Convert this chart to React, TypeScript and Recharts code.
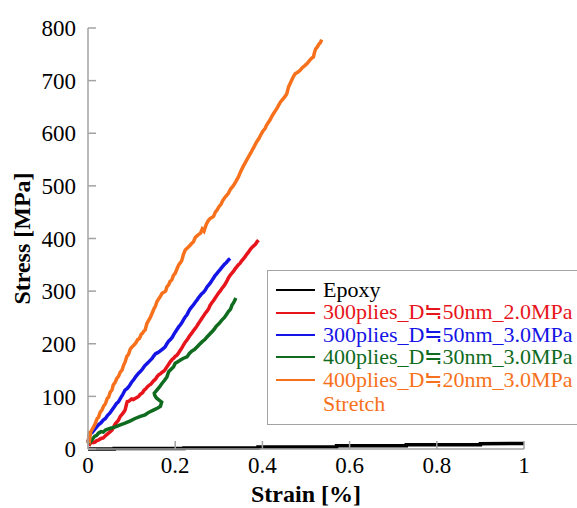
import React from 'react';
import { LineChart, Line, XAxis, YAxis, Legend, Label } from 'recharts';

// strain [%], stress [MPa] pairs
const epoxy: [number, number][] = [
  [0, 0], [0.06, 0], [0.06, 1], [0.22, 1], [0.22, 2], [0.39, 2], [0.39, 4],
  [0.57, 4], [0.57, 6], [0.73, 6], [0.73, 8], [0.9, 8], [0.9, 10], [1, 10.5],
];

const d50_20: [number, number][] = [
  [0, 11], [0.004, 9], [0.008, 14], [0.012, 12], [0.016, 13], [0.02, 16], [0.024, 17],
  [0.03, 20], [0.035, 21], [0.041, 26], [0.047, 30], [0.051, 33], [0.055, 36], [0.059, 42],
  [0.062, 47], [0.066, 51], [0.07, 55], [0.074, 62], [0.078, 66], [0.082, 70], [0.085, 74],
  [0.088, 84], [0.09, 90], [0.094, 91], [0.1, 95], [0.104, 94], [0.108, 96], [0.112, 98],
  [0.116, 100], [0.12, 104], [0.125, 107], [0.129, 112], [0.132, 114], [0.136, 118],
  [0.14, 121], [0.144, 123], [0.147, 126], [0.151, 130], [0.155, 133], [0.159, 138],
  [0.162, 141], [0.166, 143], [0.17, 146], [0.174, 148], [0.177, 151], [0.181, 156],
  [0.185, 161], [0.189, 166], [0.193, 170], [0.197, 173], [0.2, 176], [0.204, 178],
  [0.208, 183], [0.212, 188], [0.216, 193], [0.22, 199], [0.223, 203], [0.227, 207],
  [0.23, 211], [0.234, 216], [0.238, 220], [0.242, 225], [0.246, 229], [0.25, 234],
  [0.253, 238], [0.257, 243], [0.261, 248], [0.265, 253], [0.269, 258], [0.273, 262],
  [0.277, 267], [0.28, 273], [0.284, 278], [0.288, 282], [0.291, 286], [0.295, 291],
  [0.299, 296], [0.303, 300], [0.307, 305], [0.311, 309], [0.315, 314], [0.319, 320],
  [0.322, 325], [0.326, 330], [0.33, 334], [0.334, 338], [0.337, 342], [0.341, 346],
  [0.345, 350], [0.349, 353], [0.352, 357], [0.356, 361], [0.36, 365], [0.364, 370],
  [0.368, 374], [0.372, 379], [0.376, 383], [0.38, 386], [0.384, 389], [0.388, 394],
  [0.391, 397],
];

const d50_30: [number, number][] = [
  [0, 14], [0.003, 22], [0.005, 30], [0.009, 31], [0.012, 34], [0.018, 40], [0.024, 46],
  [0.03, 50], [0.035, 55], [0.04, 58], [0.045, 64], [0.05, 68], [0.055, 74], [0.06, 80],
  [0.065, 86], [0.07, 90], [0.075, 97], [0.08, 104], [0.085, 112], [0.09, 115],
  [0.095, 120], [0.1, 127], [0.105, 132], [0.11, 138], [0.116, 144], [0.12, 147],
  [0.125, 152], [0.13, 158], [0.135, 162], [0.141, 167], [0.147, 172], [0.151, 177],
  [0.155, 181], [0.16, 183], [0.165, 186], [0.171, 190], [0.177, 194], [0.181, 200],
  [0.185, 205], [0.189, 208], [0.193, 212], [0.197, 218], [0.2, 222], [0.204, 227],
  [0.208, 232], [0.212, 236], [0.216, 241], [0.22, 247], [0.223, 251], [0.227, 255],
  [0.23, 260], [0.234, 266], [0.238, 270], [0.242, 274], [0.246, 279], [0.25, 283],
  [0.253, 287], [0.257, 291], [0.261, 295], [0.265, 298], [0.269, 302], [0.273, 308],
  [0.277, 312], [0.281, 316], [0.284, 320], [0.288, 325], [0.291, 329], [0.295, 333],
  [0.299, 337], [0.303, 341], [0.306, 344], [0.31, 348], [0.313, 351], [0.317, 354],
  [0.32, 357], [0.323, 360], [0.326, 362],
];

const d30_30: [number, number][] = [
  [0, 11], [0.003, 20], [0.006, 14], [0.01, 18], [0.015, 24], [0.02, 26], [0.024, 30],
  [0.03, 33], [0.035, 32], [0.04, 36], [0.05, 39], [0.063, 42], [0.074, 46], [0.085, 49],
  [0.096, 53], [0.108, 58], [0.12, 62], [0.131, 65], [0.14, 70], [0.15, 74], [0.16, 78],
  [0.166, 81], [0.169, 89], [0.163, 93], [0.157, 97], [0.153, 102], [0.152, 106],
  [0.158, 112], [0.164, 118], [0.17, 125], [0.176, 131], [0.181, 137], [0.185, 147],
  [0.19, 151], [0.196, 156], [0.2, 163], [0.206, 166], [0.212, 169], [0.218, 172],
  [0.227, 175], [0.233, 182], [0.238, 186], [0.244, 189], [0.25, 194], [0.256, 199],
  [0.262, 204], [0.268, 208], [0.273, 213], [0.28, 219], [0.288, 226], [0.294, 233],
  [0.3, 238], [0.307, 245], [0.313, 250], [0.318, 256], [0.322, 261], [0.327, 266],
  [0.33, 273], [0.334, 278], [0.337, 283], [0.339, 287],
];

const d20_30: [number, number][] = [
  [0, 11], [0.002, 24], [0.004, 20], [0.006, 32], [0.01, 38], [0.014, 44], [0.017, 49],
  [0.021, 58], [0.024, 60], [0.028, 70], [0.032, 74], [0.036, 82], [0.04, 86], [0.044, 96],
  [0.047, 98], [0.051, 108], [0.055, 112], [0.058, 122], [0.062, 126], [0.066, 134],
  [0.07, 138], [0.074, 146], [0.078, 150], [0.082, 160], [0.085, 165], [0.089, 176],
  [0.093, 180], [0.097, 190], [0.101, 194], [0.106, 198], [0.11, 202], [0.114, 208],
  [0.118, 210], [0.122, 218], [0.125, 220], [0.128, 224], [0.131, 226], [0.135, 238],
  [0.138, 243], [0.143, 250], [0.147, 258], [0.151, 266], [0.155, 272], [0.158, 280],
  [0.162, 285], [0.166, 290], [0.17, 296], [0.174, 298], [0.178, 300], [0.181, 308],
  [0.185, 312], [0.188, 318], [0.192, 321], [0.196, 330], [0.2, 334], [0.204, 342],
  [0.208, 350], [0.212, 354], [0.215, 358], [0.219, 370], [0.223, 378], [0.228, 382],
  [0.232, 385], [0.237, 390], [0.242, 394], [0.246, 402], [0.25, 405], [0.254, 408],
  [0.258, 410], [0.262, 418], [0.266, 414], [0.27, 424], [0.272, 428], [0.276, 434],
  [0.28, 438], [0.284, 440], [0.288, 442], [0.292, 450], [0.296, 454], [0.3, 460],
  [0.305, 465], [0.309, 472], [0.313, 477], [0.318, 482], [0.322, 486], [0.327, 494],
  [0.333, 500], [0.339, 508], [0.345, 517], [0.35, 527], [0.356, 537], [0.362, 546],
  [0.368, 555], [0.373, 562], [0.378, 570], [0.382, 576], [0.387, 584], [0.392, 590],
  [0.397, 598], [0.401, 604], [0.406, 609], [0.41, 616], [0.414, 621], [0.418, 626],
  [0.421, 631], [0.426, 638], [0.43, 643], [0.434, 648], [0.437, 653], [0.442, 660],
  [0.447, 665], [0.452, 670], [0.456, 675], [0.46, 688], [0.465, 697], [0.47, 706],
  [0.475, 713], [0.481, 716], [0.487, 720], [0.492, 725], [0.498, 729], [0.503, 733],
  [0.508, 738], [0.512, 742], [0.517, 745], [0.519, 752], [0.522, 760], [0.526, 764],
  [0.53, 770], [0.533, 772], [0.536, 778],
];

const strainTicks = [0, 0.2, 0.4, 0.6, 0.8, 1];
const stressTicks = [0, 100, 200, 300, 400, 500, 600, 700, 800];

const seriesNames = [
  'Epoxy',
  '300plies_D≒50nm_2.0MPa',
  '300plies_D≒50nm_3.0MPa',
  '400plies_D≒30nm_3.0MPa',
  '400plies_D≒20nm_3.0MPa',
];
const seriesColors = ['#000000', '#e8141c', '#1414e6', '#0f6b1e', '#f7711c'];
const seriesData = [epoxy, d50_20, d50_30, d30_30, d20_30];
const legendExtra = 'Stretch';

const FONT = 'Liberation Serif, Noto Sans CJK JP, serif';
const AXIS = '#a3a3a3';

const toPoints = (pairs: [number, number][]) => pairs.map(([x, y]) => ({ x, y }));

// tick labels drawn as plain svg text so the serif face sticks
const XTick = ({ x, y, payload }: any) => (
  <text x={x} y={y} dy="0.71em" textAnchor="middle" fill="#000"
    style={{ fontFamily: 'Times New Roman', fontSize: 23 }}>
    {payload.value}
  </text>
);
const YTick = ({ x, y, payload }: any) => (
  <text x={x} y={y} dy="0.355em" textAnchor="end" fill="#000"
    style={{ fontFamily: 'Liberation Serif', fontSize: 23 }}>
    {payload.value}
  </text>
);

const renderLegend = () => (
  <div
    style={{
      background: '#fff',
      border: `1.5px solid ${AXIS}`,
      padding: '8px 0 6px 8px',
      fontFamily: FONT,
      fontSize: 22,
      lineHeight: '22.4px',
      whiteSpace: 'nowrap',
      boxSizing: 'border-box',
      height: 155,
    }}
  >
    {seriesNames.map((name, i) => (
      <div key={name} style={{ display: 'flex', alignItems: 'center', color: seriesColors[i] }}>
        <span
          style={{ display: 'inline-block', width: 39, height: 2, background: seriesColors[i], marginRight: 8 }}
        />
        <span>{name}</span>
      </div>
    ))}
    <div style={{ paddingLeft: 47, paddingTop: 2, color: seriesColors[4] }}>{legendExtra}</div>
  </div>
);

const App: React.FC = () => {
  return (
    <div style={{ fontFamily: FONT }}>
      <style>{'body{margin:0;overflow:hidden;}'}</style>
      <LineChart width={577} height={508} margin={{ top: 28, right: 53, bottom: 0, left: 0 }}>
        <XAxis
          type="number"
          dataKey="x"
          domain={[0, 1]}
          ticks={strainTicks}
          allowDuplicatedCategory={false}
          height={59}
          stroke={AXIS}
          strokeWidth={1.5}
          tickSize={-8}
          tickMargin={16}
          tick={<XTick />}
        >
          <Label
            value="Strain [%]"
            position="insideBottom"
            offset={6}
            style={{ fontSize: 24, fontWeight: 'bold', fill: '#000', fontFamily: 'serif' }}
          />
        </XAxis>
        <XAxis
          xAxisId="top"
          orientation="top"
          type="number"
          dataKey="x"
          domain={[0, 1]}
          ticks={strainTicks}
          height={0}
          stroke={AXIS}
          strokeWidth={1.5}
          tickSize={-8}
          tickFormatter={() => ''}
        />
        <YAxis
          type="number"
          domain={[0, 800]}
          ticks={stressTicks}
          width={88}
          stroke={AXIS}
          strokeWidth={1.5}
          tickSize={-8}
          tickMargin={20}
          tick={<YTick />}
        >
          <Label
            content={({ viewBox }: any) => {
              const cx = viewBox.x + 22;
              const cy = viewBox.y + viewBox.height / 2;
              return (
                <text
                  x={cx}
                  y={cy}
                  transform={`rotate(-90 ${cx} ${cy})`}
                  textAnchor="middle"
                  dominantBaseline="central"
                  style={{ fontSize: 24, fontWeight: 'bold', fill: '#000', fontFamily: 'Liberation Serif' }}
                >
                  Stress [MPa]
                </text>
              );
            }}
          />
        </YAxis>
        <YAxis
          yAxisId="right"
          orientation="right"
          type="number"
          domain={[0, 800]}
          ticks={stressTicks}
          width={0}
          stroke={AXIS}
          strokeWidth={1.5}
          tickSize={-8}
          tickFormatter={() => ''}
        />
        {seriesData.map((pairs, i) => (
          <Line
            key={seriesNames[i]}
            data={toPoints(pairs)}
            dataKey="y"
            name={seriesNames[i]}
            type="linear"
            stroke={seriesColors[i]}
            strokeWidth={3.5}
            dot={false}
            activeDot={false}
            isAnimationActive={false}
          />
        ))}
        <Legend
          content={renderLegend}
          layout="vertical"
          align="center"
          verticalAlign="middle"
          wrapperStyle={{ left: 267, top: 270, width: 345 }}
        />
      </LineChart>
    </div>
  );
};

export default App;
